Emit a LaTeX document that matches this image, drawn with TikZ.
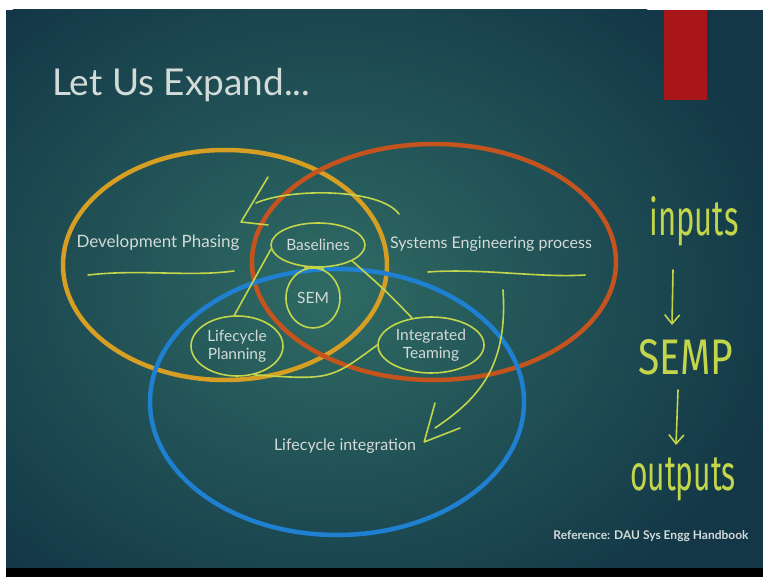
\documentclass[tikz,border=0pt]{standalone}
\usepackage{fontspec}
\setmainfont{Lato}
\newfontfamily\handfont{Fira Sans}
\usetikzlibrary{shapes.geometric, arrows.meta, positioning}
\definecolor{slidedark}{HTML}{133747}
\definecolor{slidemid}{HTML}{2F6B64}
\definecolor{phasing}{HTML}{D69E22}
\definecolor{seproc}{HTML}{C4531E}
\definecolor{integ}{HTML}{1F7FD0}
\definecolor{chalk}{HTML}{C2D54B}
\definecolor{label}{HTML}{D3DBD9}
\definecolor{barred}{HTML}{A8161A}
\begin{document}
\begin{tikzpicture}[x=1pt,y=-1pt]

	\tikzstyle{circ}=[line width=4.5pt]
	\tikzstyle{txt}=[text=label, inner sep=0pt, font=\fontsize{16}{18}\selectfont]
	\tikzstyle{ring}=[ellipse, draw=chalk, line width=1.6pt, inner sep=0pt, text=label, align=center, font=\fontsize{15.5}{17.5}\selectfont]
	\tikzstyle{pen}=[draw=chalk, line width=1.6pt, line cap=round, line join=round]
	\tikzstyle{hand}=[text=chalk, inner sep=0pt, font=\handfont\fontsize{50}{50}\selectfont]
	\tikzstyle{tip}=[-{Straight Barb[length=9pt,width=15pt]}]

	% fond
	\fill[white] (0,0) rectangle (763,577);
	\fill[slidedark] (6,10) rectangle (763,568);
	\begin{scope}
		\clip (6,10) rectangle (763,568);
		\shade[inner color=slidemid, outer color=slidedark] (330,290) ellipse [x radius=470, y radius=380];
	\end{scope}
	\fill[black] (6,568) rectangle (763,577);
	\fill[barred] (664,10) rectangle (707,100);

	\node[text=label, anchor=base west, inner sep=0pt, font=\fontsize{37}{40}\selectfont] (titre) at (52,96) {Let Us Expand...};

	% les trois ellipses
	\draw[circ, draw=phasing] (225,265) ellipse [x radius=162, y radius=115];
	\draw[circ, draw=seproc] (434,262) ellipse [x radius=182, y radius=118];
	\draw[circ, draw=integ] (337,402) ellipse [x radius=187, y radius=133];

	% placement des noeuds
	\node[txt, font=\fontsize{17}{19}\selectfont] (devph) at (158,243) {Development Phasing};
	\node[txt] (sep) at (491,244) {Systems Engineering process};
	\node[txt] (lint) at (345,446) {Lifecycle integration};
	\node[ring, minimum width=94, minimum height=44] (base) at (318,245) {Baselines};
	\node[ring, minimum width=54, minimum height=60] (sem) at (313,298) {SEM};
	\node[ring, minimum width=92, minimum height=60] (lplan) at (237,346) {Lifecycle\\Planning};
	\node[ring, minimum width=106, minimum height=56] (iteam) at (431,345) {Integrated\\Teaming};
	\node[txt, font=\bfseries\fontsize{12}{13}\selectfont] (ref) at (651,536) {Reference: DAU Sys Engg Handbook};

	% annotations
	\draw[pen] (88,275) .. controls (140,269) and (190,277) .. (234,271);
	\draw[pen] (428,272) .. controls (480,268) and (540,278) .. (585,275);
	\coordinate (boucle) at (399,214);
	\coordinate (pointe) at (241,222);
	\draw[pen] (boucle) .. controls (380,188) and (290,188) .. (256,203);
	\draw[pen] (268,177) -- (pointe) -- (268,225);
	\draw[pen] (base.185) -- (lplan.95);
	\draw[pen] (base.-25) .. controls (385,290) .. (iteam.125);
	\draw[pen] (iteam.west) .. controls (330,380) .. (lplan.-60);
	\draw[pen] (sem.105) .. controls (302,266) and (324,266) .. (sem.70);
	\coordinate (fleche) at (503,290);
	\draw[pen] (fleche) .. controls (508,365) and (480,398) .. (435,428);
	\draw[pen] (435,403) -- ([xshift=8,yshift=4]lint.east) -- (460,428);

	\node[hand, xscale=0.62] (inp) at (694,221) {inputs};
	\node[hand, xscale=0.78] (semp) at (686,357) {SEMP};
	\node[hand, xscale=0.6] (outp) at (683,479) {outputs};
	\draw[pen, tip] (673,270) -- (672,325);
	\draw[pen, tip] (678,390) -- (676,445);

\end{tikzpicture}
\end{document}
